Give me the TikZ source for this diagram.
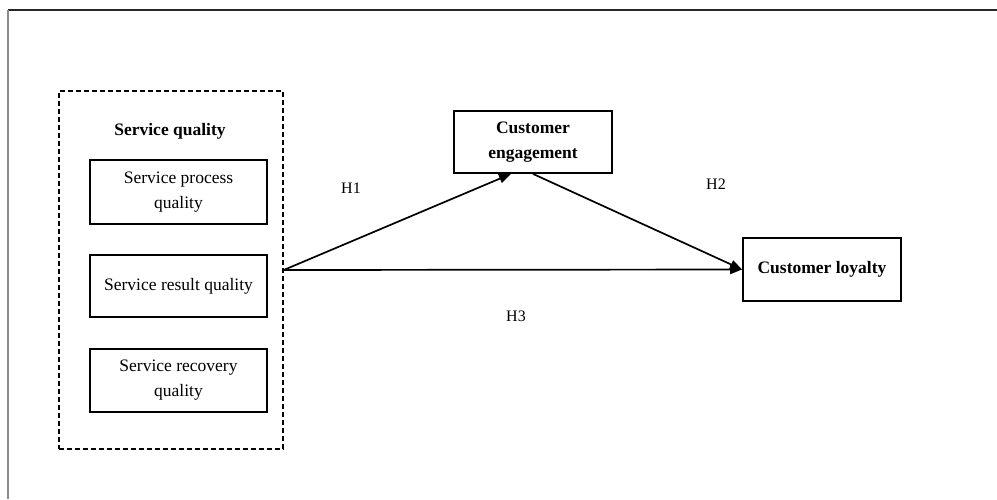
\documentclass[tikz,border=0pt]{standalone}
\usepackage{fontspec}
\setmainfont{Liberation Serif}
\usetikzlibrary{arrows.meta,calc}
\begin{document}
\begin{tikzpicture}[x=1pt,y=-1pt,
  box/.style={draw,line width=1.8pt,rectangle,inner sep=0pt,align=center,
    font=\fontsize{17.5}{25}\selectfont},
  boldbox/.style={box,font=\fontsize{17.5}{25}\selectfont\bfseries},
  grp/.style={draw,dashed,dash pattern=on 5pt off 3pt,line width=1.5pt,rectangle,inner sep=0pt},
  hlabel/.style={font=\fontsize{16}{19}\selectfont},
  conn/.style={line width=1.7pt,-{Triangle[length=12pt,width=9pt]}}]
\useasboundingbox (0,0) rectangle (997,499);
% outer frame lines
\draw[line width=1.2pt,black!85] (8,10) -- (997,10);
\draw[line width=1.2pt,black!45] (8,10) -- (8,499);
% group
\node[grp,minimum width=224pt,minimum height=358pt] (sq) at (171,270) {};
\node[font=\fontsize{17.5}{25}\selectfont\bfseries] (sqt) at (170,131) {Service quality};
\node[box,minimum width=177pt,minimum height=64pt] (p1) at (178.5,192) {Service process\\quality};
\node[box,minimum width=177pt,minimum height=62pt] (p2) at (178.5,286) {Service result quality};
\node[box,minimum width=177pt,minimum height=63pt] (p3) at (178.5,380.5) {Service recovery\\quality};
% targets
\node[boldbox,minimum width=158pt,minimum height=62pt] (ce) at (533,142) {Customer\\engagement};
\node[boldbox,minimum width=158pt,minimum height=63pt] (cl) at (822,269.5) {Customer loyalty};
% connectors
\coordinate (s) at (sq.east);
\draw[conn] (s) -- ($(ce.south)+(-22,0)$);
\draw[conn] (ce.south) -- (cl.west);
\draw[conn] (s) -- (cl.west);
% labels
\node[hlabel] (h1) at (351,188) {H1};
\node[hlabel] (h2) at (716,184) {H2};
\node[hlabel] (h3) at (516,316) {H3};
\end{tikzpicture}
\end{document}
